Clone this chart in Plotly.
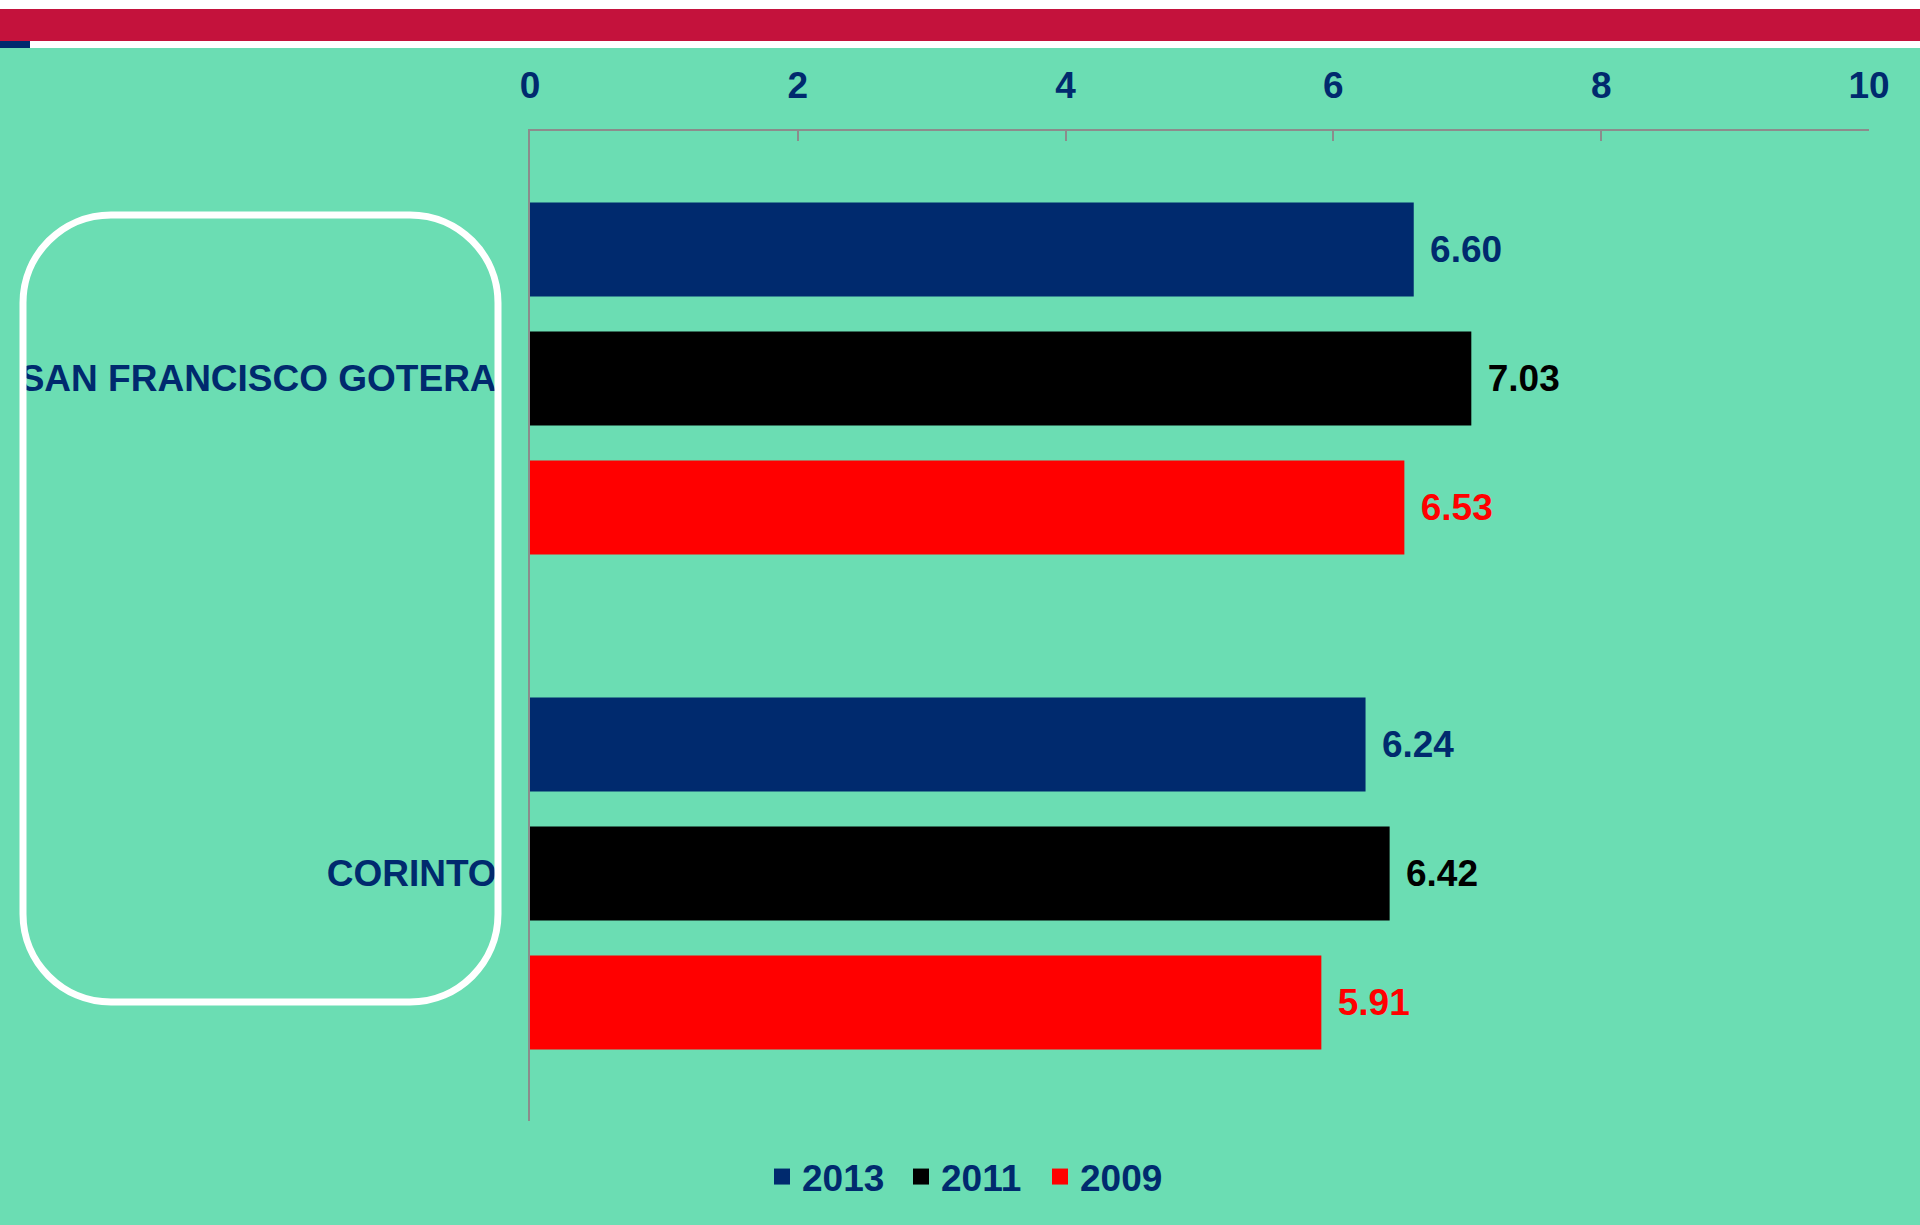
import plotly.graph_objects as go

categories = ["SAN FRANCISCO GOTERA", "CORINTO"]
years = ["2013", "2011", "2009"]
v2013 = [6.60, 6.24]
v2011 = [7.03, 6.42]
v2009 = [6.53, 5.91]
x_ticks = [0, 2, 4, 6, 8, 10]

NAVY = "#002A6E"
RED = "#FF0000"
BLACK = "#000000"
GREEN = "#6BDDB3"
CRIMSON = "#C4123C"
GRAY = "#8C8C8C"
FONT = "Liberation Sans"
FS = 37

W, H = 1920, 1225
L, R, T, B = 530, 51, 131, 104
PW, PH = W - L - R, H - T - B

series = [(years[0], v2013, NAVY), (years[1], v2011, BLACK), (years[2], v2009, RED)]

fig = go.Figure()
for name, vals, col in series:
    fig.add_trace(go.Bar(
        y=categories, x=vals, orientation="h", name=name,
        marker=dict(color=col, line=dict(width=0)),
        text=[f"\u00a0\u200a{v:.2f}" for v in vals], textposition="outside",
        textfont=dict(family=FONT, size=FS, color=col, weight="bold"),
        cliponaxis=False, showlegend=False, hoverinfo="skip",
    ))
for name, vals, col in series:
    fig.add_trace(go.Scatter(
        x=[None], y=[None], mode="markers", name=name,
        marker=dict(symbol="square", size=16, color=col),
        showlegend=True, hoverinfo="skip",
    ))


def px_x(p):
    return (p - L) / PW


def px_y(p):
    return (H - B - p) / PH


shapes = []
# white header strip + crimson band + navy tab
shapes.append(dict(type="rect", xref="paper", yref="paper", x0=px_x(0), x1=px_x(W), y0=px_y(48), y1=px_y(0),
                   fillcolor="white", line=dict(width=0), layer="below"))
shapes.append(dict(type="rect", xref="paper", yref="paper", x0=px_x(0), x1=px_x(W), y0=px_y(41), y1=px_y(9),
                   fillcolor=CRIMSON, line=dict(width=0), layer="below"))
shapes.append(dict(type="rect", xref="paper", yref="paper", x0=px_x(0), x1=px_x(30), y0=px_y(48), y1=px_y(41),
                   fillcolor=NAVY, line=dict(width=0), layer="below"))

# rounded white frame around category labels
x0, x1, y0, y1, r = 23, 498, 215, 1002, 88
k = 0.5523 * r
pts = [
    ("M", [(x0 + r, y0)]),
    ("L", [(x1 - r, y0)]),
    ("C", [(x1 - r + k, y0), (x1, y0 + r - k), (x1, y0 + r)]),
    ("L", [(x1, y1 - r)]),
    ("C", [(x1, y1 - r + k), (x1 - r + k, y1), (x1 - r, y1)]),
    ("L", [(x0 + r, y1)]),
    ("C", [(x0 + r - k, y1), (x0, y1 - r + k), (x0, y1 - r)]),
    ("L", [(x0, y0 + r)]),
    ("C", [(x0, y0 + r - k), (x0 + r - k, y0), (x0 + r, y0)]),
]
path = ""
for cmd, ps in pts:
    path += cmd + " ".join(f"{px_x(a):.5f},{px_y(b):.5f}" for a, b in ps)
path += "Z"
shapes.append(dict(type="path", xref="paper", yref="paper", path=path,
                   line=dict(color="white", width=7), fillcolor="rgba(0,0,0,0)", layer="above"))

fig.update_layout(
    width=W, height=H,
    margin=dict(l=L, r=R, t=T, b=B, pad=0),
    paper_bgcolor=GREEN, plot_bgcolor=GREEN,
    barmode="group", bargap=0.218, bargroupgap=0.271,
    font=dict(family=FONT, size=FS, color=NAVY, weight="bold"),
    shapes=shapes,
    hovermode=False,
    legend=dict(
        orientation="h", xref="container", yref="container",
        x=0.5 + 10.5 / W, xanchor="center", y=1 - 1177 / H, yanchor="middle",
        font=dict(family=FONT, size=FS, color=NAVY, weight="bold"),
        bgcolor="rgba(0,0,0,0)", itemsizing="trace",
        entrywidth=94, entrywidthmode="pixels",
    ),
    xaxis=dict(
        side="top", range=[0, 10], tickvals=x_ticks, ticktext=[str(t) for t in x_ticks],
        showgrid=False, zeroline=False,
        showline=True, linecolor=GRAY, linewidth=2,
        ticks="inside", ticklen=10, tickwidth=2, tickcolor=GRAY,
        tickfont=dict(family=FONT, size=FS, color=NAVY, weight="bold"),
        ticklabelstandoff=16, fixedrange=True,
    ),
    yaxis=dict(
        type="category", categoryorder="array", categoryarray=categories,
        autorange="reversed",
        showgrid=False, zeroline=False,
        showline=True, linecolor=GRAY, linewidth=2, ticks="",
        tickfont=dict(family=FONT, size=FS, color=NAVY, weight="bold"),
        ticklabelstandoff=24, fixedrange=True,
    ),
)

fig.write_html("out.html", config={"displayModeBar": False},
               post_script="document.body.style.margin='0';document.body.style.overflow='hidden';")
